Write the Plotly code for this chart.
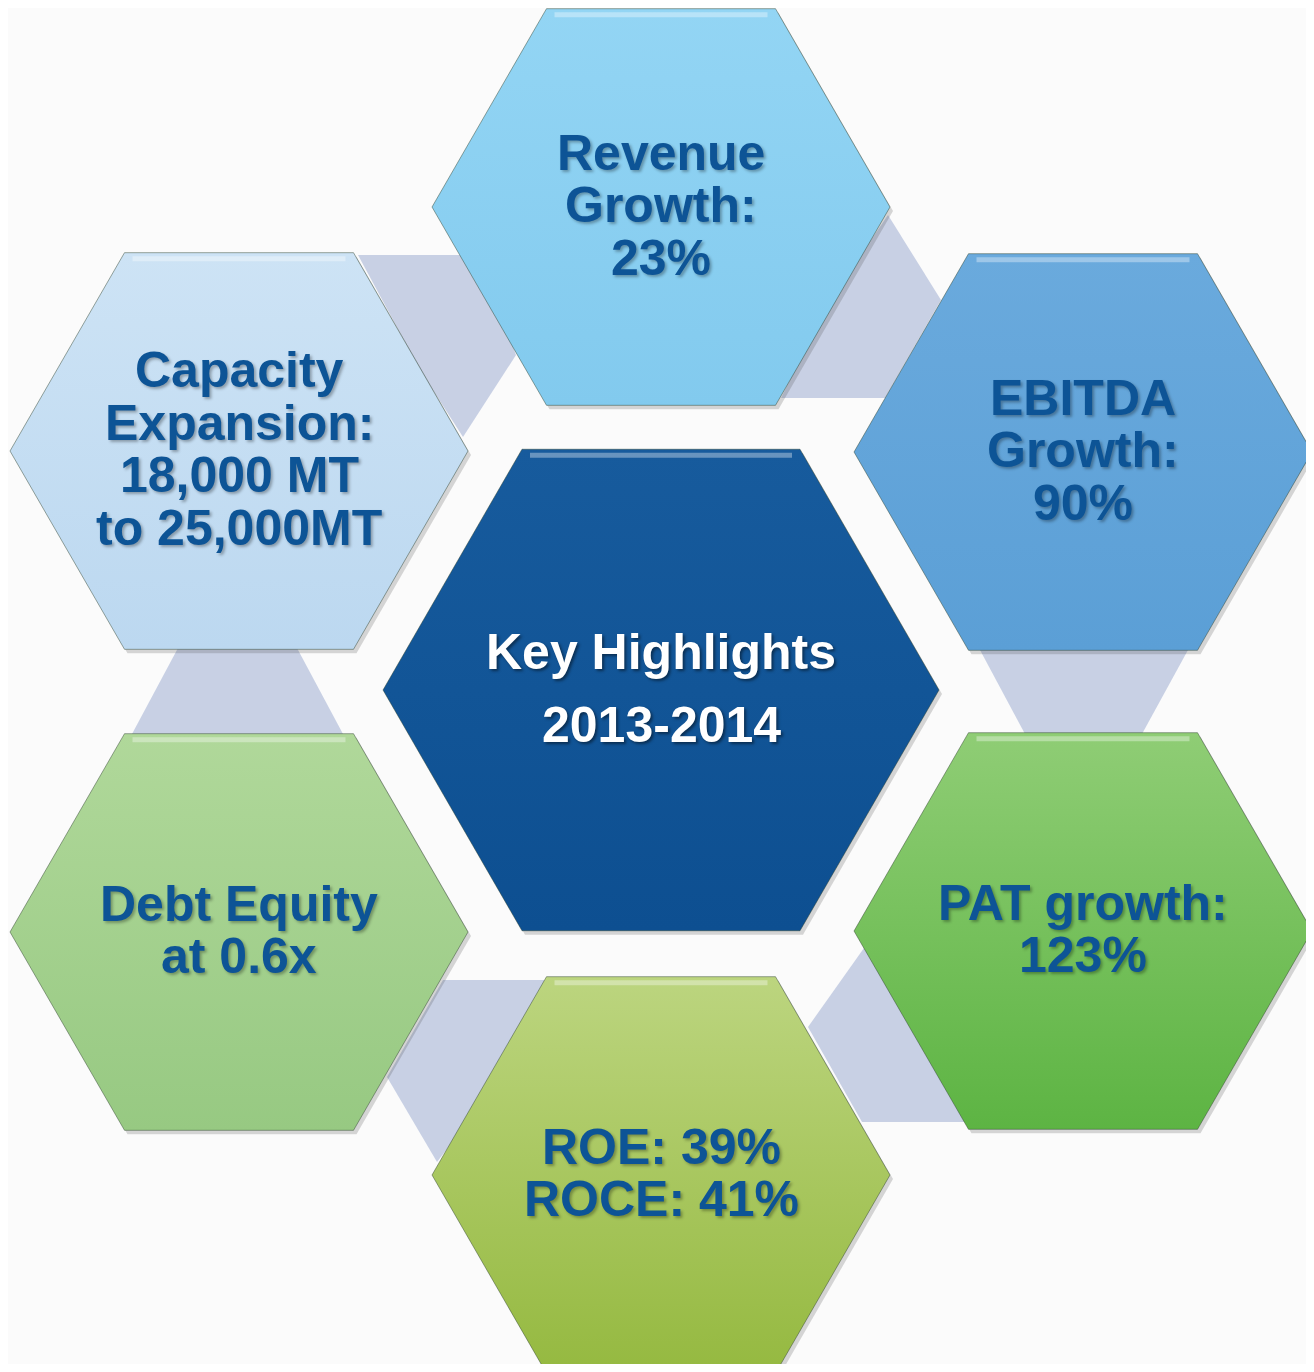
import math
import plotly.graph_objects as go

# ---------------- data ----------------
labels = [
    ["Revenue", "Growth:", "23%"],
    ["EBITDA", "Growth:", "90%"],
    ["PAT growth:", "123%"],
    ["ROE: 39%", "ROCE: 41%"],
    ["Debt Equity", "at 0.6x"],
    ["Capacity", "Expansion:", "18,000 MT", "to 25,000MT"],
]
center_lines = ["Key Highlights", "2013-2014"]

top_colors = ["#93d5f4", "#6aaadd", "#8fcd75", "#bcd57f", "#b0d89a", "#cde3f5"]
bottom_colors = ["#82caee", "#5b9fd6", "#5db443", "#95b940", "#97c982", "#bcd8f0"]
center_top, center_bottom = "#175b9d", "#0d4f91"
text_color = "#0d5496"
link_color = "#c8d0e4"

# ---------------- layout geometry ----------------
W, H = 1314, 1372
PAGE_MARGIN = 8  # default body margin of the html page
outer_centres = [(661, 207), (1083, 452), (1083, 931), (661, 1175), (239, 932), (239, 451)]
main_centre = (661, 690)
R_OUT, R_MAIN = 229, 278
LINE_GAP, MAIN_GAP = 52.5, 73

links = [
    [(358, 255), (480, 255), (516, 355), (463, 437), (420, 370)],
    [(888, 215), (941, 300), (885, 398), (781, 398), (830, 300)],
    [(980, 650), (1188, 650), (1142, 734), (1025, 734)],
    [(864, 948), (930, 1000), (968, 1122), (862, 1122), (808, 1027)],
    [(443, 980), (545, 980), (500, 1080), (437, 1162), (387, 1077)],
    [(178, 648), (297, 648), (343, 734), (132, 734)],
]


def hexagon(cx, cy, r):
    h = r * math.sqrt(3) / 2
    pts = [(cx - r, cy), (cx - r / 2, cy - h), (cx + r / 2, cy - h),
           (cx + r, cy), (cx + r / 2, cy + h), (cx - r / 2, cy + h), (cx - r, cy)]
    return [p[0] for p in pts], [p[1] for p in pts], cy - h, cy + h


fig = go.Figure()

# connector bands
for poly in links:
    xs = [p[0] for p in poly] + [poly[0][0]]
    ys = [p[1] for p in poly] + [poly[0][1]]
    fig.add_trace(go.Scatter(x=xs, y=ys, mode="lines", fill="toself",
                             fillcolor=link_color, line=dict(width=0),
                             hoverinfo="skip", showlegend=False))

all_hex = [(c, R_OUT, t, b) for c, t, b in zip(outer_centres, top_colors, bottom_colors)]
all_hex.append((main_centre, R_MAIN, center_top, center_bottom))

# shadows
for (cx, cy), r, _, _ in all_hex:
    xs, ys, _, _ = hexagon(cx + 3, cy + 4, r)
    fig.add_trace(go.Scatter(x=xs, y=ys, mode="lines", fill="toself",
                             fillcolor="rgba(60,60,60,0.20)", line=dict(width=0),
                             hoverinfo="skip", showlegend=False))

# hexagons
for (cx, cy), r, ct, cb in all_hex:
    xs, ys, ytop, ybot = hexagon(cx, cy, r)
    fig.add_trace(go.Scatter(
        x=xs, y=ys, mode="lines", fill="toself",
        fillgradient=dict(type="vertical", start=ytop, stop=ybot,
                          colorscale=[[0, ct], [1, cb]]),
        line=dict(width=1, color="rgba(40,60,40,0.45)"),
        hoverinfo="skip", showlegend=False))
    # bevel highlight along the top edge
    h = r * math.sqrt(3) / 2
    fig.add_trace(go.Scatter(
        x=[cx - r / 2 + 8, cx + r / 2 - 8], y=[cy - h + 6, cy - h + 6],
        mode="lines", line=dict(width=5, color="rgba(255,255,255,0.35)"),
        hoverinfo="skip", showlegend=False))

annotations = []
font_main = dict(family="Liberation Sans, Arial, sans-serif", size=50, weight="bold")

for (cx, cy), lines in zip(outer_centres, labels):
    n = len(lines)
    for i, line in enumerate(lines):
        y = cy - 2 + (i - (n - 1) / 2) * LINE_GAP
        annotations.append(dict(
            x=cx, y=y, xref="x", yref="y", text=line, showarrow=False,
            xanchor="center", yanchor="middle",
            font=dict(**font_main, color=text_color,
                      shadow="2px 2px 3px rgba(0,0,0,0.3)")))

n = len(center_lines)
for i, line in enumerate(center_lines):
    y = main_centre[1] - 2 + (i - (n - 1) / 2) * MAIN_GAP
    annotations.append(dict(
        x=main_centre[0], y=y, xref="x", yref="y", text=line, showarrow=False,
        xanchor="center", yanchor="middle",
        font=dict(**font_main, color="#ffffff",
                  shadow="2px 2px 3px rgba(0,0,0,0.45)")))

m = PAGE_MARGIN
fig.update_layout(
    width=W - 2 * m, height=H - 2 * m,
    margin=dict(l=0, r=0, t=0, b=0),
    paper_bgcolor="#fbfbfb", plot_bgcolor="#fbfbfb",
    xaxis=dict(range=[m, W - m], visible=False, fixedrange=True),
    yaxis=dict(range=[H - m, m], visible=False, fixedrange=True),
    annotations=annotations,
    showlegend=False,
)

fig.write_html("out.html", config={"displayModeBar": False})
